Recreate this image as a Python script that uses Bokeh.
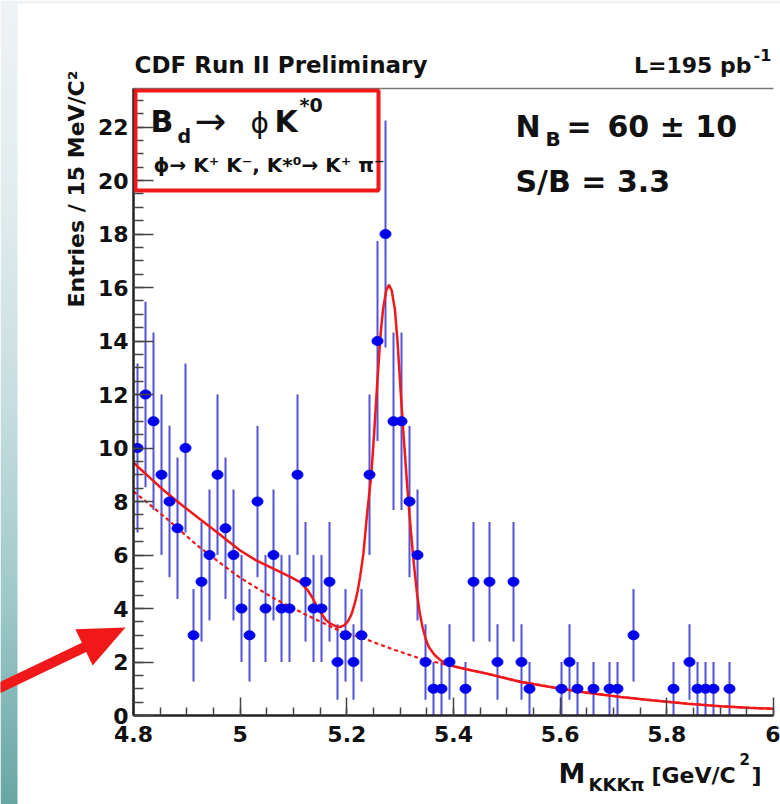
import numpy as np
from bokeh.plotting import figure
from bokeh.models import (Label, FixedTicker, LinearAxis, CustomJSTickFormatter,
                          BoxAnnotation, Range1d, ColumnDataSource, GridBox)
from bokeh.embed import file_html
from bokeh.resources import INLINE

# ---------------- data ----------------
bin_lo = 4.8
bin_width = 0.015   # 15 MeV bins
counts = [10, 12, 11, 9, 8, 7, 10, 3, 5, 6,
          9, 7, 6, 4, 3, 8, 4, 6, 4, 4,
          9, 5, 4, 4, 5, 2, 3, 2, 3, 9,
          14, 18, 11, 11, 8, 6, 2, 1, 1, 2,
          0, 1, 5, 0, 5, 2, 0, 5, 2, 1,
          0, 0, 0, 1, 2, 1, 0, 1, 0, 1,
          1, 0, 3, 0, 0, 0, 0, 1, 0, 2,
          1, 1, 1, 0, 1, 0, 0, 0, 0, 0]

fit_mass = [4.800, 4.830, 4.857, 4.890, 4.920, 4.950, 4.976, 5.000, 5.030, 5.063,
            5.095, 5.113, 5.126, 5.135, 5.144, 5.151, 5.160, 5.170, 5.180, 5.188,
            5.196, 5.203, 5.209, 5.215, 5.220, 5.225, 5.231, 5.238, 5.246, 5.251,
            5.257, 5.263, 5.268, 5.274, 5.279, 5.284, 5.290, 5.295, 5.301, 5.307,
            5.3135, 5.320, 5.326, 5.332, 5.337, 5.342, 5.348, 5.354, 5.365, 5.376,
            5.400, 5.430, 5.464, 5.526, 5.601, 5.650, 5.714, 5.780, 5.839, 5.900,
            5.950, 6.000]
fit_total = [9.45, 8.90, 8.41, 7.88, 7.41, 6.95, 6.54, 6.17, 5.80, 5.48,
             5.17, 4.98, 4.70, 4.42, 4.08, 3.86, 3.58, 3.43, 3.33, 3.31,
             3.38, 3.55, 3.80, 4.20, 4.62, 5.20, 6.04, 7.54, 9.03, 10.50,
             12.40, 14.20, 15.20, 15.90, 16.10, 15.90, 15.20, 14.00, 12.10, 10.30,
             8.50, 6.90, 5.60, 4.50, 3.80, 3.30, 2.85, 2.55, 2.25, 2.06,
             1.84, 1.70, 1.56, 1.25, 1.00, 0.85, 0.69, 0.55, 0.44, 0.35,
             0.29, 0.25]

bkg_mass = [4.800, 4.857, 4.920, 4.976, 5.000, 5.063, 5.126, 5.188, 5.226, 5.280,
            5.3385, 5.376, 5.4636, 5.526, 5.601, 5.714, 5.839, 5.900, 5.995]
bkg_vals = [8.38, 7.45, 6.35, 5.50, 5.15, 4.38, 3.74, 3.15, 2.92, 2.52,
            2.12, 1.95, 1.56, 1.27, 1.00, 0.69, 0.44, 0.35, 0.25]

x_ticks = [4.8, 5.0, 5.2, 5.4, 5.6, 5.8, 6.0]
y_ticks = [0, 2, 4, 6, 8, 10, 12, 14, 16, 18, 20, 22]

# ---------------- geometry ----------------
W, H = 780, 804
FX0, FX1 = 133, 773      # frame left/right (px)
FY0, FY1 = 88, 715       # frame top/bottom (px)
XMIN, XMAX = 4.8, 6.0
YMIN, YMAX = 0.0, 23.44
BASE_K = 0.36            # label anchor lift (em) so glyph baselines land where wanted

def dx(px):
    return XMIN + (px - FX0) * (XMAX - XMIN) / (FX1 - FX0)

def dy(py):
    return YMIN + (FY1 - py) * (YMAX - YMIN) / (FY1 - FY0)

FONT = "DejaVu Sans"
RED = "#f01818"
INK = "#111111"

# ================= background canvas (page decoration + outer texts) =================
bg = figure(width=W, height=H, output_backend="svg", toolbar_location=None,
            x_range=Range1d(0, W), y_range=Range1d(H, 0),
            min_border=0, min_border_left=0, min_border_right=0,
            min_border_top=0, min_border_bottom=0,
            x_axis_location=None, y_axis_location=None,
            outline_line_color=None, background_fill_color="white",
            border_fill_color="white")
bg.frame_align = False
bg.grid.visible = False

# teal gradient strip on the left and light strip on top
stops_py = [0, 200, 400, 600, 804]
stops_rgb = [(238, 243, 246), (226, 236, 239), (200, 222, 224), (160, 201, 201), (104, 166, 165)]
band = 4
tops = np.arange(0, H, band)
cols = []
for y0 in tops:
    yc = y0 + band / 2
    rgb = [int(np.interp(yc, stops_py, [c[k] for c in stops_rgb])) for k in range(3)]
    cols.append("#%02x%02x%02x" % tuple(rgb))
bg.quad(left=0, right=17, top=tops, bottom=tops + band + 0.5, fill_color=cols, line_color=None)
bg.quad(left=[0], right=[W], top=[0], bottom=[3], fill_color="#eef2f5", line_color=None)

# red arrow pointing at the background
tip = np.array([125.0, 627.0])
tail = np.array([-10.0, 691.7])
u = (tip - tail) / np.linalg.norm(tip - tail)
n = np.array([-u[1], u[0]])
head_len, head_half, shaft_half = 46.0, 20.0, 5.0
base = tip - head_len * u
pts = [tail + shaft_half * n, base + shaft_half * n, base + head_half * n, tip,
       base - head_half * n, base - shaft_half * n, tail - shaft_half * n]
bg.patch([q[0] for q in pts], [q[1] for q in pts], fill_color=RED, line_color=None)

def blab(text, px, py, size, bold=True, align="left", angle=0.0):
    if angle:
        ax, ay = px - BASE_K * size, py
    else:
        ax, ay = px, py - BASE_K * size
    bg.add_layout(Label(x=ax, y=ay, text=text, text_font=FONT,
                        text_font_size="%dpx" % size,
                        text_font_style="bold" if bold else "normal",
                        text_align=align, text_baseline="alphabetic",
                        angle=angle, text_color=INK))

blab("CDF Run II Preliminary", 134, 73, 23)
blab("L=195 pb", 751, 73, 22, align="right")
blab("-1", 753, 60, 16)
blab("Entries / 15 MeV/C²", 84, 307, 22, angle=np.pi / 2)
blab("M", 558, 783, 27)
blab("KKKπ", 588, 790, 18)
blab("[GeV/C", 651, 783, 22)
blab("2", 739, 764, 15)
blab("]", 751, 783, 22)

# ================= the histogram figure (transparent, on top) =================
p = figure(width=W, height=H, output_backend="svg", toolbar_location=None,
           x_range=Range1d(XMIN, XMAX), y_range=Range1d(YMIN, YMAX),
           min_border_left=FX0, min_border_right=W - FX1,
           min_border_top=FY0, min_border_bottom=H - FY1,
           background_fill_alpha=0, border_fill_alpha=0,
           outline_line_color=None)
p.frame_align = False
p.xgrid.visible = False
p.ygrid.visible = False

xa = p.xaxis[0]
xa.ticker = FixedTicker(ticks=x_ticks,
                        minor_ticks=[round(4.8 + 0.05 * i, 2) for i in range(25)])
xa.formatter = CustomJSTickFormatter(code="return Number(tick.toFixed(1)).toString();")
xa.major_tick_in = 18
xa.major_tick_out = 0
xa.minor_tick_in = 8
xa.minor_tick_out = 0
xa.major_tick_line_color = "#444444"
xa.minor_tick_line_color = "#444444"
xa.major_tick_line_width = 1.5
xa.minor_tick_line_width = 1.5
xa.axis_line_color = "#222222"
xa.axis_line_width = 2.5
xa.major_label_text_font = FONT
xa.major_label_text_font_style = "bold"
xa.major_label_text_font_size = "22px"
xa.major_label_text_color = INK
xa.major_label_standoff = 10

ya = p.yaxis[0]
ya.ticker = FixedTicker(ticks=y_ticks, minor_ticks=[0.5 * i for i in range(47)])
ya.major_tick_in = 20
ya.major_tick_out = 0
ya.minor_tick_in = 10
ya.minor_tick_out = 0
ya.major_tick_line_color = "#444444"
ya.minor_tick_line_color = "#444444"
ya.major_tick_line_width = 1.5
ya.minor_tick_line_width = 1.5
ya.axis_line_color = "#222222"
ya.axis_line_width = 2.5
ya.major_label_text_font = FONT
ya.major_label_text_font_style = "bold"
ya.major_label_text_font_size = "22px"
ya.major_label_text_color = INK
ya.major_label_standoff = 5

top_axis = LinearAxis(ticker=FixedTicker(ticks=[]), axis_line_color="#777777",
                      axis_line_width=1.5, major_tick_line_color=None,
                      minor_tick_line_color=None, major_label_text_font_size="0px")
p.add_layout(top_axis, "above")

counts_a = np.array(counts, dtype=float)
centers = bin_lo + bin_width * (np.arange(len(counts_a)) + 0.5)
nz = counts_a > 0
err = np.sqrt(counts_a[nz])
src = ColumnDataSource(dict(x=centers[nz], y=counts_a[nz],
                            lo=counts_a[nz] - err, hi=counts_a[nz] + err))

p.segment("x", "lo", "x", "hi", source=src, line_color="#5252dc", line_width=2)
p.line(bkg_mass, bkg_vals, line_color=RED, line_width=2.2, line_dash="4 3")
p.line(fit_mass, fit_total, line_color=RED, line_width=2.5)
p.ellipse("x", "y", width=11, height=9, width_units="screen", height_units="screen",
          source=src, fill_color="#0000f0", line_color="#0000f0")

p.add_layout(BoxAnnotation(left=dx(135), right=dx(378), top=dy(90), bottom=dy(190),
                           fill_color=None, fill_alpha=0, line_color=RED,
                           line_alpha=1.0, line_width=4))

def lab(text, px, py, size, bold=True, align="left"):
    p.add_layout(Label(x=dx(px), y=dy(py - BASE_K * size), text=text, text_font=FONT,
                       text_font_size="%dpx" % size,
                       text_font_style="bold" if bold else "normal",
                       text_align=align, text_baseline="alphabetic", text_color=INK))

lab("B", 150, 132, 30)
lab("d", 177, 142, 19)
lab("→", 194, 134, 38, bold=False)
lab("ϕ", 250, 133, 28, bold=False)
lab("K", 274, 132, 30)
lab("*0", 299, 111, 19)
lab("ϕ→ K⁺ K⁻, K*⁰→ K⁺ π⁻", 153, 172, 20)

lab("N", 515, 137, 30)
lab("B", 545, 146, 20)
lab("=", 566, 137, 30)
lab("60 ± 10", 607, 137, 30)
lab("S/B = 3.3", 515, 192, 30)

layout = GridBox(children=[(bg, 0, 0), (p, 0, 0)])
open("out.html", "w").write(file_html(layout, INLINE))
